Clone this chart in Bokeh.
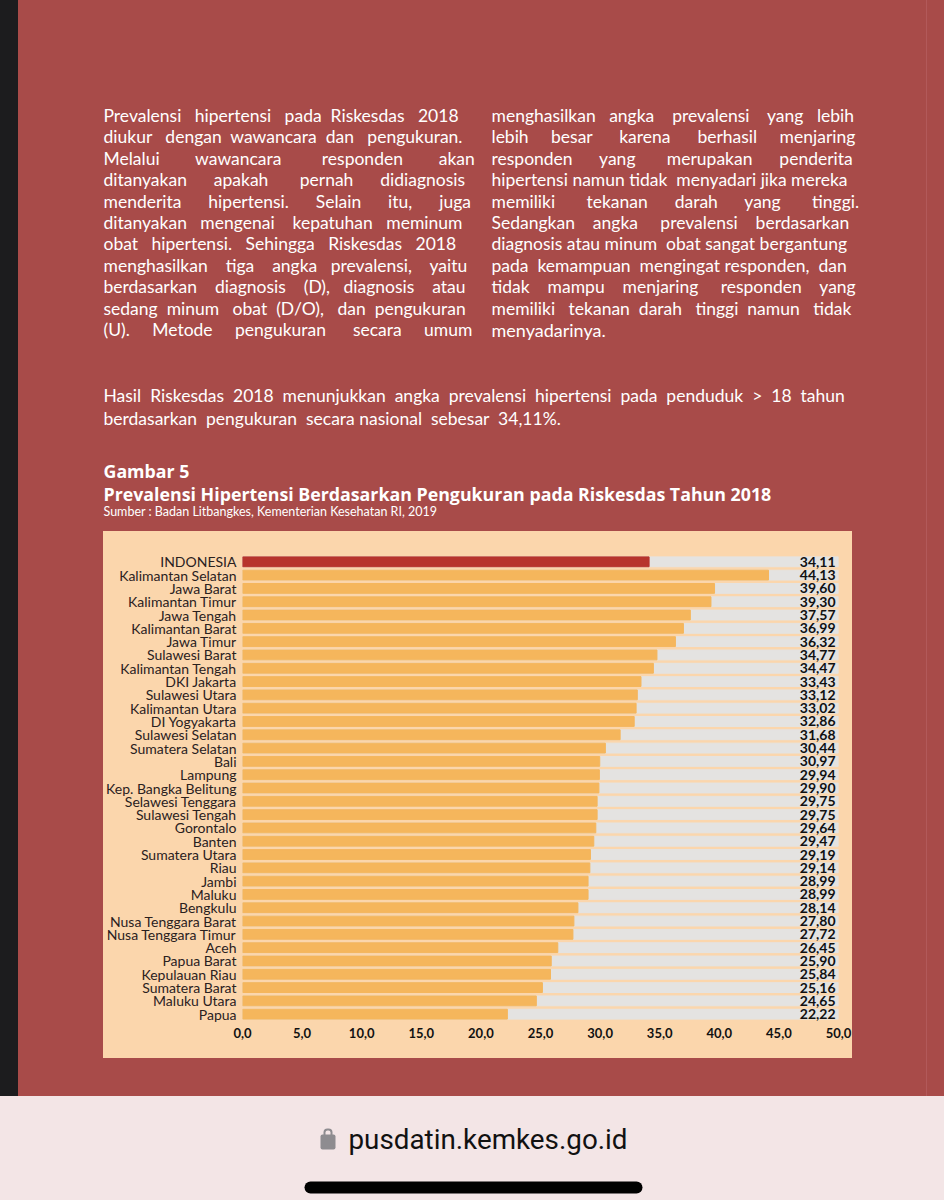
from bokeh.plotting import figure
from bokeh.layouts import column
from bokeh.models import (ColumnDataSource, FactorRange, Range1d, Label, BoxAnnotation,
                          FixedTicker, GlobalInlineStyleSheet)
from bokeh.core.properties import value
from bokeh.embed import file_html
from bokeh.resources import INLINE

provinces = ["INDONESIA", "Kalimantan Selatan", "Jawa Barat", "Kalimantan Timur", "Jawa Tengah",
             "Kalimantan Barat", "Jawa Timur", "Sulawesi Barat", "Kalimantan Tengah", "DKI Jakarta",
             "Sulawesi Utara", "Kalimantan Utara", "DI Yogyakarta", "Sulawesi Selatan", "Sumatera Selatan",
             "Bali", "Lampung", "Kep. Bangka Belitung", "Selawesi Tenggara", "Sulawesi Tengah",
             "Gorontalo", "Banten", "Sumatera Utara", "Riau", "Jambi", "Maluku", "Bengkulu",
             "Nusa Tenggara Barat", "Nusa Tenggara Timur", "Aceh", "Papua Barat", "Kepulauan Riau",
             "Sumatera Barat", "Maluku Utara", "Papua"]
bar_values = [34.11, 44.13, 39.60, 39.30, 37.57, 36.99, 36.32, 34.77, 34.47, 33.43, 33.12, 33.02, 32.86,
              31.68, 30.44, 29.97, 29.94, 29.90, 29.75, 29.75, 29.64, 29.47, 29.19, 29.14, 28.99, 28.99,
              28.14, 27.80, 27.72, 26.45, 25.90, 25.84, 25.16, 24.65, 22.22]
value_labels = ["34,11", "44,13", "39,60", "39,30", "37,57", "36,99", "36,32", "34,77", "34,47", "33,43",
                "33,12", "33,02", "32,86", "31,68", "30,44", "30,97", "29,94", "29,90", "29,75", "29,75",
                "29,64", "29,47", "29,19", "29,14", "28,99", "28,99", "28,14", "27,80", "27,72", "26,45",
                "25,90", "25,84", "25,16", "24,65", "22,22"]
x_ticks = [0, 5, 10, 15, 20, 25, 30, 35, 40, 45, 50]
x_tick_labels = ["0,0", "5,0", "10,0", "15,0", "20,0", "25,0", "30,0", "35,0", "40,0", "45,0", "50,0"]

left_text = ["Prevalensi hipertensi pada Riskesdas 2018", "diukur dengan wawancara dan pengukuran.",
             "Melalui wawancara responden akan", "ditanyakan apakah pernah didiagnosis",
             "menderita hipertensi. Selain itu, juga", "ditanyakan mengenai kepatuhan meminum",
             "obat hipertensi. Sehingga Riskesdas 2018", "menghasilkan tiga angka prevalensi, yaitu",
             "berdasarkan diagnosis (D), diagnosis atau", "sedang minum obat (D/O), dan pengukuran",
             "(U). Metode pengukuran secara umum"]
right_text = ["menghasilkan angka prevalensi yang lebih", "lebih besar karena berhasil menjaring",
              "responden yang merupakan penderita", "hipertensi namun tidak menyadari jika mereka",
              "memiliki tekanan darah yang tinggi.", "Sedangkan angka prevalensi berdasarkan",
              "diagnosis atau minum obat sangat bergantung", "pada kemampuan mengingat responden, dan",
              "tidak mampu menjaring responden yang", "memiliki tekanan darah tinggi namun tidak",
              "menyadarinya."]
wide_text = ["Hasil Riskesdas 2018 menunjukkan angka prevalensi hipertensi pada penduduk > 18 tahun",
             "berdasarkan pengukuran secara nasional sebesar 34,11%."]

FONT = "Lato"
RED, PINK, PEACH = "#a84b49", "#f3e5e6", "#fbd6ac"
WIDTH = 943

page_css = GlobalInlineStyleSheet(css=(
    "html{background:"
    "linear-gradient(#1c1c1e,#1c1c1e) 0 0/18px 1096px no-repeat,"
    f"linear-gradient({PEACH},{PEACH}) 103px 531px/749px 527px no-repeat,"
    "linear-gradient(#b2595a,#b2595a) 926px 0/1px 1096px no-repeat,"
    f"linear-gradient({RED} 1096px,{PINK} 1096px) 0 0/944px 1200px no-repeat;}}"))


def sheet(height, y0):
    f = figure(width=WIDTH, height=height, output_backend="svg", toolbar_location=None,
               x_range=Range1d(0, WIDTH), y_range=Range1d(y0 + height, y0), min_border=0,
               background_fill_color=None, border_fill_color=None, outline_line_color=None)
    f.axis.visible = False
    f.grid.visible = False
    return f


top = sheet(548, 0)
bottom = sheet(143, 1056)

order = provinces[::-1]
p = figure(width=WIDTH, height=508, output_backend="svg", toolbar_location=None,
           x_range=Range1d(0, x_ticks[-1]),
           y_range=FactorRange(factors=order, range_padding=0.5, range_padding_units="absolute"),
           min_border_left=242, min_border_right=WIDTH - 838, min_border_top=0, min_border_bottom=29,
           background_fill_color=None, border_fill_color=None, outline_line_color=None)
p.grid.visible = False

source = ColumnDataSource(dict(
    province=provinces, bar=bar_values, track=[x_ticks[-1]] * len(provinces),
    label=value_labels, label_x=[x_ticks[-1] - 0.25] * len(provinces),
    color=["#b7342c"] + ["#f5b65c"] * (len(provinces) - 1)))
p.hbar(y="province", right="track", left=0, height=0.74, color="#e4e3e1", source=source)
p.hbar(y="province", right="bar", left=0, height=0.74, color="color", source=source)
p.text(x="label_x", y="province", text="label", source=source, text_align="right", text_baseline="middle",
       text_font=value(FONT), text_font_size="14px", text_font_style="bold", text_color="#111111")

xa = p.xaxis[0]
xa.ticker = FixedTicker(ticks=x_ticks)
xa.major_label_overrides = dict(zip(x_ticks, x_tick_labels))
xa.axis_line_color = None
xa.major_tick_line_color = None
xa.major_tick_out = 0
xa.minor_tick_line_color = None
xa.major_label_standoff = 0
xa.major_label_text_font = FONT
xa.major_label_text_font_size = "13px"
xa.major_label_text_font_style = "bold"
xa.major_label_text_color = "#111111"

ya = p.yaxis[0]
ya.axis_line_color = None
ya.major_tick_line_color = None
ya.major_tick_out = 0
ya.minor_tick_line_color = None
ya.major_label_standoff = 6
ya.major_label_text_font = FONT
ya.major_label_text_font_size = "14px"
ya.major_label_text_color = "#2a211e"


def box(f, x0, y0, x1, y1, color, **kw):
    f.add_layout(BoxAnnotation(left=x0, right=x1, top=y0, bottom=y1, fill_color=color, fill_alpha=1,
                               line_color=None, **kw))


def text(f, x, y, s, size, color="#ffffff", style="normal", font=FONT):
    f.add_layout(Label(x=x, y=y, text=s, text_font=font, text_font_size=f"{size}px", text_font_style=style,
                       text_color=color, text_baseline="middle", text_align="left"))


EM = {"a": .49, "b": .55, "c": .45, "d": .56, "e": .51, "f": .32, "g": .50, "h": .54, "i": .23, "j": .23,
      "k": .49, "l": .23, "m": .80, "n": .54, "o": .56, "p": .55, "q": .55, "r": .36, "s": .41, "t": .33,
      "u": .54, "v": .47, "w": .75, "x": .47, "y": .46, "z": .44, " ": .22, ".": .22, ",": .22, "(": .30,
      ")": .30, "/": .37}
FIT = 1.05


def justified(f, x, y, line, width, size):
    natural = sum(EM.get(c, .62) for c in line) * size * FIT
    if natural > width:
        size = size * width / natural
        natural = width
    gaps = line.count(" ")
    extra = max(0, round((width - natural) / (EM[" "] * size * FIT)))
    words = line.split(" ")
    out, used = words[0], 0
    for i, w in enumerate(words[1:], 1):
        k = round(extra * i / gaps) - used
        used += k
        out += " " + "\u00a0" * k + w
    text(f, x, y, out, round(size, 2))


BODY = 17.5
pitch = 21.4
for i, s in enumerate(left_text):
    justified(top, 103, 115 + i * pitch, s, 361, BODY)
for i, s in enumerate(right_text[:-1]):
    justified(top, 491, 115 + i * pitch, s, 361, BODY)
text(top, 491, 115 + 10 * pitch, right_text[-1], 18)
justified(top, 103, 395, wide_text[0], 752, BODY)
justified(top, 103, 418, wide_text[1], 465, BODY)
text(top, 103, 470, "Gambar 5", 17.8, style="bold", font="Open Sans")
text(top, 103, 493, "Prevalensi Hipertensi Berdasarkan Pengukuran pada Riskesdas Tahun 2018", 17.8,
     style="bold", font="Open Sans")
text(top, 103, 511, "Sumber : Badan Litbangkes, Kementerian Kesehatan RI, 2019", 12.5)

box(bottom, 304, 1181, 642, 1193, "#000000", border_radius=6)
box(bottom, 323, 1128, 332, 1138, "#8e8c90", border_radius=4)
box(bottom, 325, 1130, 330, 1136, PINK, border_radius=2)
box(bottom, 320, 1134, 335, 1149, "#8e8c90", border_radius=2)
text(bottom, 348, 1139, "pusdatin.kemkes.go.id", 27.8, color="#111111", font="Roboto")

layout = column(column(top), column(p), column(bottom), spacing=0, stylesheets=[page_css])
open("out.html", "w").write(file_html(layout, INLINE))
